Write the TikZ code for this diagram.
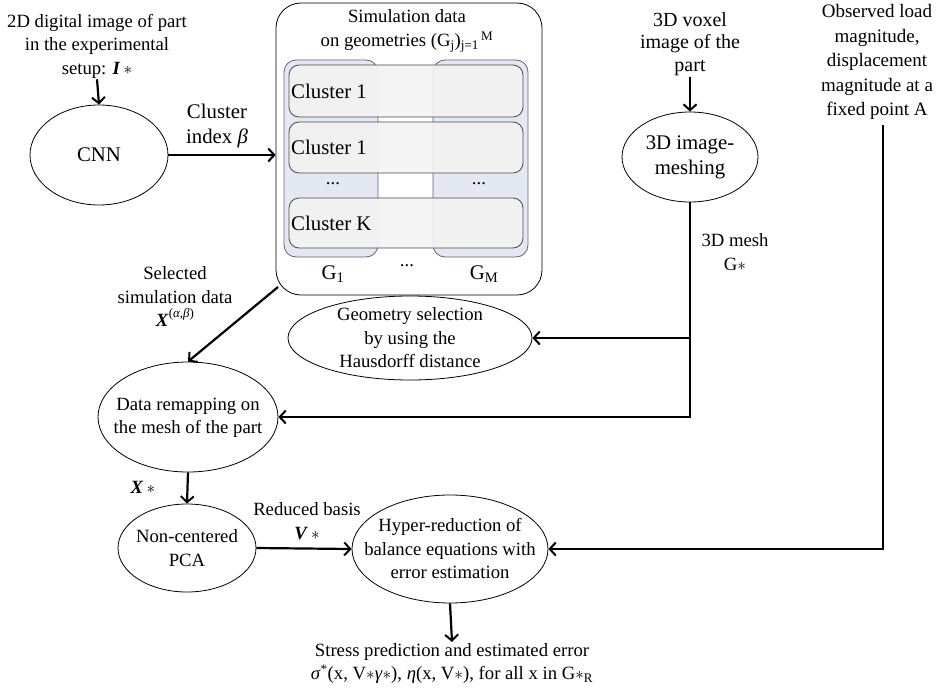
\documentclass[tikz,border=0pt]{standalone}
\usepackage{fontspec}
\setmainfont{Liberation Serif}
\usetikzlibrary{arrows.meta,shapes.geometric}
\definecolor{colfill}{HTML}{E3E8F2}
\definecolor{colline}{HTML}{5E6672}
\definecolor{rowfill}{HTML}{F3F3F3}
\definecolor{rowline}{HTML}{4A4A4A}
\begin{document}
\begin{tikzpicture}[x=1pt,y=-1pt,
  txt/.style={align=center, inner sep=1pt, font=\fontsize{18.7}{23.5}\selectfont},
  bigtxt/.style={align=center, inner sep=1pt, font=\fontsize{20.8}{25}\selectfont},
  ell/.style={draw, ellipse, line width=0.8pt, inner sep=0pt},
  arr/.style={line width=2.2pt, -{Straight Barb[length=6pt,width=13pt,line width=2pt]}},
  thk/.style={line width=2.2pt}]
\useasboundingbox (0,0) rectangle (939,693);

% top-left input
\node[txt] (in2d) at (97,46) {2D digital image of part\\in the experimental\\setup: \textbf{\textit{I}}\,$\ast$};
\node[ell, minimum width=138pt, minimum height=100pt] (cnn) at (99,155) {};
\node[bigtxt] at (cnn) {CNN};
\draw[arr] (in2d.south) -- (cnn.north);

% simulation data box
\node[draw, line width=0.8pt, rounded corners=25pt, minimum width=266pt, minimum height=292pt, inner sep=0pt] (sim) at (409,149) {};
\node[txt] (simtitle) at (407,31) {Simulation data\\on geometries (G\textsubscript{j})\textsubscript{j=1}\textsuperscript{\,M}};

% columns
\draw[fill=colfill, draw=colline, line width=0.8pt, rounded corners=12pt] (284,60) rectangle (378,257);
\draw[fill=colfill, draw=colline, line width=0.8pt, rounded corners=12pt] (433,60) rectangle (528,257);
% rows
\draw[fill=rowfill, fill opacity=0.9, draw=rowline, line width=0.8pt, rounded corners=10pt] (289,65) rectangle (523,117);
\draw[fill=rowfill, fill opacity=0.9, draw=rowline, line width=0.8pt, rounded corners=10pt] (289,122) rectangle (523,173);
\draw[fill=rowfill, fill opacity=0.9, draw=rowline, line width=0.8pt, rounded corners=10pt] (289,198) rectangle (523,248);
\node[bigtxt, anchor=west] (c1) at (290,91) {Cluster 1};
\node[bigtxt, anchor=west] (c2) at (290,147.5) {Cluster 1};
\node[bigtxt, anchor=west] (ck) at (290,223) {Cluster K};
\node[txt] (d1) at (333,184) {...};
\node[txt] (d2) at (479,184) {...};
\node[bigtxt] (g1) at (333,274) {G\textsubscript{1}};
\node[txt] (gd) at (407,266) {...};
\node[bigtxt] (gm) at (484,274) {G\textsubscript{M}};

% CNN -> sim
\draw[arr] (cnn.east) -- (cnn.east -| sim.west);
\node[bigtxt] (cidx) at (217,126) {Cluster\\index \textit{β}};

% voxel and mesh
\node[bigtxt, font=\fontsize{20}{22.5}\selectfont] (voxel) at (690,44) {3D voxel\\image of the\\part};
\node[ell, minimum width=136pt, minimum height=90pt] (mesh) at (690,157) {};
\node[bigtxt] at (mesh) {3D image-\\meshing};
\draw[arr] (voxel.south) -- (mesh.north);

% observed
\node[txt, font=\fontsize{19}{24.5}\selectfont] (obs) at (877,62) {Observed load\\magnitude,\\displacement\\magnitude at a\\fixed point A};
\coordinate (obsb) at (883,125);

% geometry selection
\node[ell, minimum width=244pt, minimum height=84pt] (geo) at (410,338) {};
\node[txt] at (geo) {Geometry selection\\by using the\\Hausdorff distance};

% remap
\node[ell, minimum width=180pt, minimum height=110pt] (remap) at (188,417) {};
\node[txt] at (188,418) {Data remapping on\\the mesh of the part};

% PCA
\node[ell, minimum width=138pt, minimum height=88pt] (pca) at (187,548) {};
\node[txt] at (pca) {Non-centered\\PCA};

% hyper
\node[ell, minimum width=196pt, minimum height=108pt] (hyper) at (450,549) {};
\node[txt] at (hyper) {Hyper-reduction of\\balance equations with\\error estimation};

% output
\node[txt, anchor=north] (out) at (452,642) {Stress prediction and estimated error\\\textit{σ}\textsuperscript{*}(x, V$\ast$\textit{γ}$\ast$), \textit{η}(x, V$\ast$), for all x in G$\ast$\textsubscript{R}};

% connectors
\draw[arr] (mesh.south) |- (remap.east);
\draw[arr] (mesh.south |- geo.east) -- (geo.east);
\node[txt] (meshlbl) at (735,252) {3D mesh\\G$\ast$};

\coordinate (selstart) at (278,287);
\draw[arr] (selstart) -- (remap.north);
\node[txt] (sellbl) at (175,297) {Selected\\simulation data\\\textbf{\textit{X}}\raisebox{1.1ex}{\fontsize{13}{13}\selectfont(\textit{α},\textit{β})}};

\draw[arr] (remap.south) -- (pca.north);
\node[txt] (xlbl) at (143,487) {\textbf{\textit{X}}\,$\ast$};

\draw[arr] (pca.east) -- (hyper.west);
\node[txt] (vlbl) at (307,521) {Reduced basis\\\textbf{\textit{V}}\,$\ast$};

\draw[arr] (obsb) |- (hyper.east);
\draw[arr] (hyper.south) -- (out.north);
\end{tikzpicture}
\end{document}
